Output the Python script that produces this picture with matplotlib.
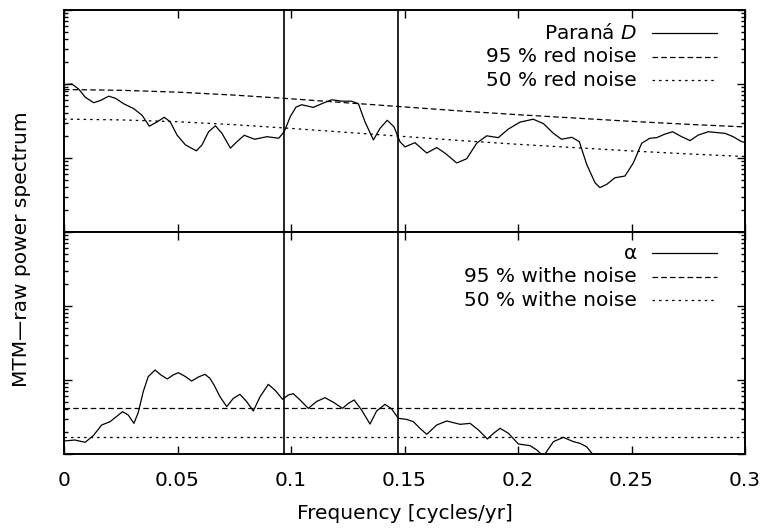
import numpy as np
import matplotlib
matplotlib.use("Agg")
import matplotlib.pyplot as plt
from matplotlib.ticker import LogLocator, NullFormatter

plt.rcParams['font.family'] = ['DejaVu Sans']
plt.rcParams['font.size'] = 14.5
plt.rcParams['lines.scale_dashes'] = False

# ---------------- data (log10 of power) ----------------
freq_top = [0.000, 0.0035, 0.0065, 0.0094, 0.0131, 0.016, 0.0197, 0.0226, 0.0263, 0.0307,
            0.0344, 0.0376, 0.041, 0.0442, 0.0468, 0.0498, 0.0535, 0.0583, 0.0608, 0.0637,
            0.0667, 0.0696, 0.0733, 0.0762, 0.0794, 0.084, 0.0894, 0.0946, 0.097, 0.0997,
            0.1022, 0.1047, 0.1098, 0.1135, 0.1179, 0.1223, 0.1267, 0.1297, 0.1326, 0.1363,
            0.1392, 0.1424, 0.1454, 0.148, 0.1502, 0.1546, 0.1598, 0.1642, 0.1678, 0.173,
            0.1774, 0.1818, 0.1862, 0.1913, 0.1957, 0.2009, 0.2067, 0.2112, 0.2156, 0.2192,
            0.2237, 0.227, 0.2303, 0.2339, 0.2361, 0.2391, 0.2427, 0.2471, 0.2508, 0.2545,
            0.2581, 0.2611, 0.2648, 0.2681, 0.2721, 0.2758, 0.2794, 0.2838, 0.2912, 0.2948,
            0.2985, 0.300]
parana_log = [1.99, 2.00, 1.93, 1.82, 1.747, 1.777, 1.835, 1.808, 1.733, 1.667,
              1.577, 1.43, 1.488, 1.55, 1.488, 1.31, 1.177, 1.097, 1.177, 1.355,
              1.435, 1.333, 1.133, 1.221, 1.307, 1.253, 1.288, 1.267, 1.355, 1.56,
              1.688, 1.72, 1.684, 1.733, 1.787, 1.768, 1.768, 1.733, 1.488, 1.244,
              1.40, 1.51, 1.42, 1.22, 1.15, 1.207, 1.067, 1.141, 1.067, 0.933,
              0.99, 1.20, 1.30, 1.275, 1.39, 1.485, 1.524, 1.465, 1.333, 1.253,
              1.28, 1.221, 0.911, 0.667, 0.60, 0.644, 0.733, 0.756, 0.933, 1.20,
              1.267, 1.275, 1.324, 1.355, 1.288, 1.235, 1.31, 1.355, 1.333, 1.288,
              1.221, 1.21]

freq_noise = [0.0, 0.025, 0.05, 0.075, 0.1, 0.125, 0.15, 0.175, 0.2, 0.225, 0.25, 0.275, 0.3]
red95_log = [1.925, 1.915, 1.89, 1.85, 1.80, 1.745, 1.69, 1.635, 1.585, 1.54, 1.495, 1.455, 1.42]
red50_log = [1.525, 1.515, 1.49, 1.45, 1.40, 1.345, 1.29, 1.235, 1.185, 1.14, 1.095, 1.055, 1.02]

freq_bot = [0.000, 0.0048, 0.0093, 0.0129, 0.0166, 0.0203, 0.0258, 0.0283, 0.0308, 0.0327,
            0.0349, 0.0371, 0.0401, 0.0427, 0.0455, 0.0482, 0.0504, 0.0533, 0.0562, 0.0592,
            0.0621, 0.0643, 0.0661, 0.0687, 0.0717, 0.0746, 0.0775, 0.0805, 0.0834, 0.0863,
            0.0900, 0.0929, 0.0963, 0.0988, 0.1010, 0.1040, 0.1076, 0.1113, 0.1150, 0.1186,
            0.1227, 0.1253, 0.1278, 0.1311, 0.1348, 0.1377, 0.1414, 0.1443, 0.1473, 0.1509,
            0.1539, 0.1568, 0.1598, 0.1642, 0.1686, 0.1745, 0.1789, 0.1826, 0.1865, 0.1892,
            0.1921, 0.1958, 0.2002, 0.2053, 0.2083, 0.2112, 0.2156, 0.2200, 0.2244, 0.2273,
            0.2302, 0.2339, 0.245, 0.270, 0.300]
alpha_log = [0.176, 0.189, 0.158, 0.248, 0.392, 0.437, 0.572, 0.527, 0.414, 0.56,
             0.842, 1.045, 1.135, 1.068, 1.014, 1.07, 1.099, 1.05, 0.986, 1.04,
             1.077, 1.022, 0.932, 0.775, 0.64, 0.752, 0.806, 0.707, 0.581, 0.77,
             0.941, 0.865, 0.739, 0.797, 0.815, 0.73, 0.617, 0.71, 0.761, 0.70,
             0.617, 0.685, 0.73, 0.595, 0.405, 0.58, 0.671, 0.61, 0.482, 0.468,
             0.437, 0.347, 0.266, 0.392, 0.446, 0.401, 0.414, 0.324, 0.203, 0.279,
             0.347, 0.279, 0.135, 0.113, 0.054, -0.03, 0.167, 0.225, 0.167, 0.144,
             0.099, -0.04, -0.35, -0.3, -0.35]
white95_log = 0.626
white50_log = 0.226

vlines_freq = [0.097, 0.147]
xticks = [0, 0.05, 0.1, 0.15, 0.2, 0.25, 0.3]
xticklabels = ["0", "0.05", "0.1", "0.15", "0.2", "0.25", "0.3"]

# ---------------- figure ----------------
W, H = 768, 531
fig = plt.figure(figsize=(W / 100, H / 100), dpi=100)
L, R, T, M, B = 64, 745, 10, 232, 454
ax1 = fig.add_axes([L / W, 1 - M / H, (R - L) / W, (M - T) / H])
ax2 = fig.add_axes([L / W, 1 - B / H, (R - L) / W, (B - M) / H])

dash95 = (0, (4.0, 2.3))
dash50 = (0, (1.8, 2.9))
lw = 0.9

ax1.plot(freq_top, 10 ** np.array(parana_log), color='black', lw=lw)
ax1.plot(freq_noise, 10 ** np.array(red95_log), color='black', lw=lw, linestyle=dash95)
ax1.plot(freq_noise, 10 ** np.array(red50_log), color='black', lw=lw, linestyle=dash50)

ax2.plot(freq_bot, 10 ** np.array(alpha_log), color='black', lw=lw)
ax2.plot([0, 0.3], [10 ** white95_log] * 2, color='black', lw=lw, linestyle=dash95)
ax2.plot([0, 0.3], [10 ** white50_log] * 2, color='black', lw=lw, linestyle=dash50)

for ax in (ax1, ax2):
    for v in vlines_freq:
        ax.axvline(v, color='black', lw=1.2)
    ax.set_yscale('log')
    ax.set_ylim(1, 1000)
    ax.set_xlim(0, 0.3)
    ax.set_xticks(xticks)
    ax.yaxis.set_major_locator(LogLocator(base=10, numticks=10))
    ax.yaxis.set_minor_locator(LogLocator(base=10, subs=np.arange(2, 10), numticks=20))
    ax.yaxis.set_major_formatter(NullFormatter())
    ax.yaxis.set_minor_formatter(NullFormatter())
    ax.tick_params(which='both', direction='in', top=True, right=True, width=1.0)
    ax.tick_params(which='major', length=6)
    ax.tick_params(which='minor', length=3)
    for s in ax.spines.values():
        s.set_linewidth(1.4)

ax1.set_xticklabels([])
ax2.set_xticklabels(xticklabels)
ax2.tick_params(axis='x', pad=12)
ax2.set_xlabel('Frequency [cycles/yr]', labelpad=10)

fig.text(22 / W, 1 - 249 / H, 'MTM\u2014raw power spectrum', rotation=90,
         ha='center', va='center')

# ---------------- legends (gnuplot style: text right aligned, sample on right) ----------------
def legend(ax, labels, styles, rows_px, top_px):
    h = 222.0
    for lab, st, ypx in zip(labels, styles, rows_px):
        yf = 1 - (ypx - top_px) / h
        ax.text((637 - L) / (R - L), yf, lab, transform=ax.transAxes,
                ha='right', va='center')
        ax.plot([(652 - L) / (R - L), (717 - L) / (R - L)], [yf, yf],
                transform=ax.transAxes, color='black', lw=lw, linestyle=st)

legend(ax1, ['Paran\u00e1 $\\mathit{D}$', '95 % red noise', '50 % red noise'],
       ['-', dash95, dash50], [33, 56.5, 80], T)
legend(ax2, ['\u03b1', '95 % withe noise', '50 % withe noise'],
       ['-', dash95, dash50], [253, 276.7, 300], M)

fig.savefig('out.png', dpi=100)
